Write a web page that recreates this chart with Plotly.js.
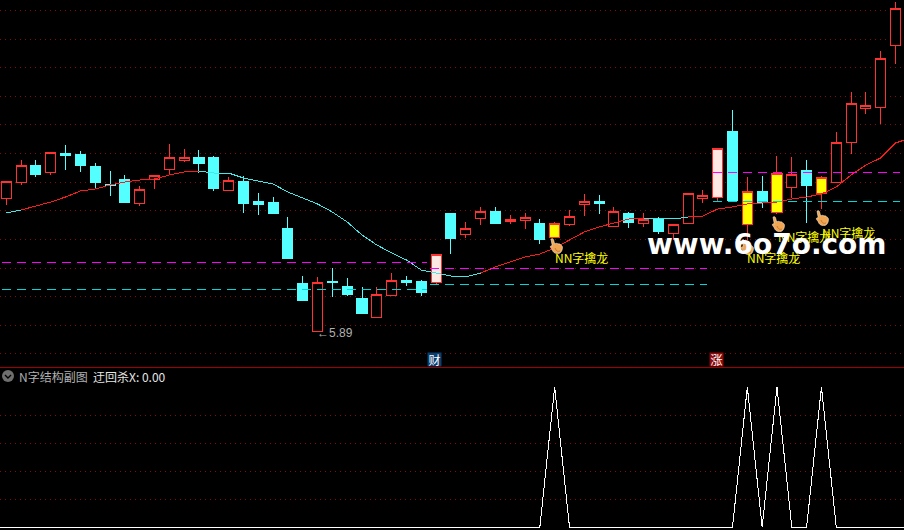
<!DOCTYPE html>
<html>
<head>
<meta charset="utf-8">
<script src="https://cdn.plot.ly/plotly-3.0.1.min.js"></script>
<style>
html,body{margin:0;padding:0;background:#000;}
#chart{width:904px;height:530px;}
.trace path,.gridlayer path{shape-rendering:crispEdges;}
</style>
</head>
<body>
<div id="chart"></div>
<script>
const opens  = [7.22,7.38,7.55,7.48,7.67,7.66,7.54,7.36,7.41,7.17,7.41,7.51,7.60,7.63,7.63,7.30,7.39,7.19,7.18,6.92,6.37,5.89,6.39,6.34,6.22,6.03,6.25,6.40,6.39,6.38,7.07,6.86,7.02,7.09,6.99,7.00,6.97,6.83,6.96,7.16,7.19,6.94,7.07,6.97,7.01,6.87,6.97,7.22,7.23,7.89,6.96,7.29,7.08,7.33,7.50,7.27,7.38,7.78,8.12,8.13,8.75];
const highs  = [7.39,7.60,7.60,7.68,7.75,7.69,7.57,7.49,7.45,7.34,7.45,7.76,7.71,7.70,7.64,7.43,7.44,7.27,7.23,7.03,6.44,6.43,6.52,6.42,6.33,6.33,6.47,6.44,6.40,6.66,7.07,6.98,7.13,7.13,7.05,7.07,7.01,6.98,7.10,7.26,7.25,7.13,7.08,7.07,7.03,6.96,7.27,7.30,7.72,8.10,7.43,7.44,7.64,7.63,7.60,7.44,7.88,8.28,8.28,8.69,9.18];
const lows   = [7.15,7.35,7.43,7.45,7.50,7.48,7.31,7.24,7.17,7.14,7.31,7.45,7.58,7.47,7.29,7.29,7.07,7.05,7.06,6.62,6.20,5.89,6.23,6.24,6.07,6.03,6.25,6.34,6.24,6.36,6.66,6.82,6.95,6.96,6.96,6.91,6.76,6.83,6.94,7.04,7.06,6.93,6.92,6.93,6.86,6.80,6.97,7.17,7.19,7.20,6.80,7.12,7.06,7.22,6.97,7.11,7.38,7.66,8.06,7.96,8.56];
const closes = [7.39,7.55,7.46,7.68,7.65,7.55,7.38,7.35,7.18,7.31,7.45,7.63,7.63,7.57,7.32,7.40,7.17,7.16,7.07,6.62,6.20,6.38,6.38,6.26,6.07,6.26,6.40,6.38,6.28,6.66,6.82,6.92,7.09,6.97,7.01,7.03,6.81,6.97,7.04,7.19,7.17,7.09,6.98,7.01,6.89,6.96,7.27,7.25,7.72,7.20,7.29,7.18,7.47,7.46,7.35,7.43,7.78,8.17,8.15,8.62,9.12];
const pinkDays   = [29,48];
const yellowDays = [37,50,52,55];

const movingAvg = [7.07,7.10,7.14,7.18,7.23,7.29,7.31,7.35,7.38,7.40,7.41,7.45,7.48,7.49,7.47,7.47,7.42,7.39,7.36,7.28,7.22,7.16,7.08,6.98,6.85,6.75,6.67,6.60,6.50,6.47,6.44,6.43,6.47,6.53,6.58,6.63,6.66,6.72,6.80,6.88,6.93,6.97,7.01,7.02,7.02,7.01,7.03,7.04,7.11,7.13,7.16,7.17,7.18,7.21,7.23,7.26,7.33,7.45,7.55,7.62,7.77,7.82];
const maRedSpans  = [[1,13],[32,43],[46,61]];
const maCyanSpans = [[0,1],[13,32],[43,46]];

const magentaLevels = [{from:-0.3,to:28.4,level:6.58},{from:28.6,to:47.3,level:6.52},{from:47.7,to:60.3,level:7.48}];
const cyanLevels    = [{from:-0.3,to:28.4,level:6.31},{from:28.6,to:47.3,level:6.36},{from:47.7,to:60.3,level:7.19}];

const signalDays = [36,37,38,49,50,51,52,53,54,55,56];
const signalVals = [0,1,0,0,1,0,1,0,0,1,0];

const mainGrid = [9.10,8.81,8.53,8.24,7.96,7.67,7.38,7.10,6.81,6.52,6.24,5.95,5.67];
const subGrid  = [0.2,0.4,0.6,0.8];

const signalLabel = 'NN字擒龙';
const RED='#ff3232', CYAN='#54ffff', MAG='#ff00ff', TEAL='#00d8d8';
const GRID='#800c0c';
const CJK='"Noto Sans CJK SC","Noto Sans",sans-serif';
const px=v=>v/904, py=v=>1-v/530;

const idx = opens.map((_,i)=>i);
const special = new Set(pinkDays.concat(yellowDays));
const plain = idx.filter(i=>!special.has(i));
function candles(days, upFill, dnFill){
  return {type:'candlestick', x:days, open:days.map(i=>opens[i]), high:days.map(i=>highs[i]),
    low:days.map(i=>lows[i]), close:days.map(i=>closes[i]), whiskerwidth:0, hoverinfo:'skip', showlegend:false,
    increasing:{line:{color:RED,width:1},fillcolor:upFill},
    decreasing:{line:{color:CYAN,width:1},fillcolor:dnFill}, xaxis:'x', yaxis:'y'};
}
function maTrace(spans,color){
  const x=[],y=[];
  spans.forEach(([a,b])=>{ for(let i=a;i<=b;i++){x.push(i);y.push(movingAvg[i]);} x.push(null);y.push(null); });
  return {type:'scatter',mode:'lines',x,y,line:{color,width:1},hoverinfo:'skip',showlegend:false};
}
function levelTrace(l,color){
  return {type:'scatter',mode:'lines',x:[l.from,l.to],y:[l.level,l.level],
    line:{color,width:1,dash:'9px,6px'},hoverinfo:'skip',showlegend:false};
}
const sx=[],sy=[];
for(let i=-1;i<=61;i++){const k=signalDays.indexOf(i);sx.push(i);sy.push(k>=0?signalVals[k]:0);}

const traces=[
  candles(plain,'#000000',CYAN),
  candles(pinkDays,'#fde8e4',CYAN),
  candles(yellowDays,'#ffff00',CYAN),
  maTrace(maRedSpans,'#ff1a1a'),
  maTrace(maCyanSpans,'#40e8e8'),
  ...magentaLevels.map(l=>levelTrace(l,MAG)),
  ...cyanLevels.map(l=>levelTrace(l,TEAL)),
  {type:'scatter',mode:'lines',x:sx,y:sy,xaxis:'x2',yaxis:'y2',line:{color:'#ffffff',width:1},hoverinfo:'skip',showlegend:false}
];

function txt(text,x,y,color,size,extra){
  return Object.assign({text,xref:'paper',yref:'paper',x:px(x),y:py(y),xanchor:'left',yanchor:'middle',
    showarrow:false,font:{family:CJK,size,color},borderpad:0},extra||{});
}
const handSvg=encodeURIComponent('<svg xmlns="http://www.w3.org/2000/svg" viewBox="0 0 14 16"><path d="M2 1.2 C3 .2 4.2 .6 4.6 2 L5.6 6 C7 5 8.4 5.2 9 6 C10.2 5.6 11.2 6 11.6 7 C12.8 7.2 13.6 8.2 13.4 10 C13.2 13 11.6 15.6 8.6 15.6 C5.6 15.6 4 14 3.4 12 C2.8 10.6 1.4 10 1.4 8.6 C1.6 7.6 2.6 7.6 3.4 8.2 Z" fill="#f0a552" stroke="#fff1dc" stroke-width=".6"/><path d="M6 10 C7 13 9 14 11 13" fill="none" stroke="#c87a30" stroke-width="1"/></svg>');
const handBoxes=[[549,238],[771,216],[815,210],[740,239]];

const layout={
  width:904,height:530,margin:{l:0,r:0,t:0,b:0},paper_bgcolor:'#000',plot_bgcolor:'#000',
  showlegend:false,boxmode:'overlay',boxgap:0.03,hovermode:false,
  xaxis:{domain:[0,1],range:[-0.425,60.57],anchor:'y',rangeslider:{visible:false},showgrid:false,zeroline:false,
    showticklabels:false,ticks:'',showline:true,linecolor:'#a00000',linewidth:1,fixedrange:true},
  xaxis2:{domain:[0,1],range:[-0.425,60.57],anchor:'y2',showgrid:false,zeroline:false,showticklabels:false,ticks:'',fixedrange:true},
  yaxis:{domain:[163/530,1],range:[5.53,9.20],tickmode:'array',tickvals:mainGrid,showticklabels:false,ticks:'',
    showgrid:true,gridcolor:GRID,griddash:'1px,4px',gridwidth:1,zeroline:false,fixedrange:true},
  yaxis2:{domain:[0,163/530],range:[-0.021,1.143],tickmode:'array',tickvals:subGrid,showticklabels:false,ticks:'',
    showgrid:true,gridcolor:GRID,griddash:'1px,4px',gridwidth:1,zeroline:false,fixedrange:true},
  images:handBoxes.map(([x,y])=>({source:'data:image/svg+xml,'+handSvg,xref:'paper',yref:'paper',x:px(x),y:py(y),
    sizex:14/904,sizey:16/530,xanchor:'left',yanchor:'top',sizing:'stretch',layer:'above'})),
  shapes:[
    {type:'circle',xref:'paper',yref:'paper',x0:px(2),x1:px(14),y0:py(382),y1:py(370),fillcolor:'#6e6e6e',line:{width:0}},
    {type:'path',xref:'paper',yref:'paper',path:`M ${px(5)} ${py(375)} L ${px(8)} ${py(378)} L ${px(11)} ${py(375)}`,line:{color:'#000',width:1.4}}
  ],
  annotations:[
    txt('←5.89',316,333,'#b0b0b0',12,{font:{family:'"Liberation Sans",sans-serif',size:12,color:'#b0b0b0'}}),
    txt(signalLabel,554,257,'#ffff00',12),
    txt(signalLabel,746,257,'#ffff00',12),
    txt(signalLabel,777,236,'#ffff00',12),
    txt(signalLabel,821,232,'#ffff00',12),
    txt('财',434.5,359.5,'#ffffff',12,{xanchor:'center',width:13,height:13,bgcolor:'#0c3f70'}),
    txt('涨',716.5,359.5,'#ffffff',12,{xanchor:'center',width:13,height:13,bgcolor:'#8c0a0a'}),
    txt('N字结构副图',18,376,'#b0b0b0',12),
    txt('迂回杀X: 0.00',92,376,'#e6e6e6',12),
    txt('www.6o7o.com',646,244,'#ffffff',28,{font:{family:'"DejaVu Sans",sans-serif',size:28,color:'#ffffff',weight:700}})
  ]
};
Plotly.newPlot('chart',traces,layout,{staticPlot:true,displayModeBar:false});
</script>
</body>
</html>
